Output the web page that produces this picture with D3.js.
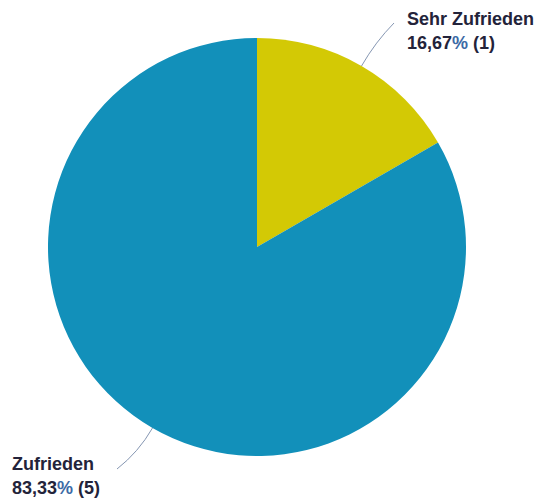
<!DOCTYPE html>
<html>
<head>
<meta charset="utf-8">
<script src="https://cdn.jsdelivr.net/npm/d3@7"></script>
<style>
  html, body { margin: 0; padding: 0; background: #fff; }
  svg { display: block; }
  text { font-family: "Liberation Sans", Arial, sans-serif; font-weight: bold; }
</style>
</head>
<body>
<svg id="chart" width="546" height="499"></svg>
<script>
// Satisfaction survey answers
const categories = ["Sehr Zufrieden", "Zufrieden"];
const counts = [1, 5];
const percentLabels = ["16,67", "83,33"];
const colors = ["#d3c905", "#1290ba"];

const width = 546, height = 499;
const cx = 257, cy = 247, radius = 209;

const svg = d3.select("#chart");
const g = svg.append("g").attr("transform", `translate(${cx},${cy})`);

const pie = d3.pie().sort(null).value(d => d.count);
const data = categories.map((c, i) => ({ name: c, count: counts[i], pct: percentLabels[i], color: colors[i] }));
const arcs = pie(data);
const arc = d3.arc().innerRadius(0).outerRadius(radius);

g.selectAll("path.slice")
  .data(arcs)
  .join("path")
  .attr("class", "slice")
  .attr("d", arc)
  .attr("fill", d => d.data.color);

// Label placement: text anchor point and leader line end, relative to centre
const labelPos = [
  { tx: 407 - cx, ty: 25 - cy, lx: 394 - cx, ly: 23 - cy },
  { tx: 12 - cx, ty: 470 - cy, lx: 117 - cx, ly: 469 - cy }
];

arcs.forEach((a, i) => {
  const mid = (a.startAngle + a.endAngle) / 2;
  const sx = Math.sin(mid) * radius, sy = -Math.cos(mid) * radius;
  const p = labelPos[i];
  // control point pushes the leader outward along the slice bisector
  const ox = Math.sin(mid) * (radius + 28), oy = -Math.cos(mid) * (radius + 28);
  const path = d3.path();
  path.moveTo(sx, sy);
  path.quadraticCurveTo(ox, oy, p.lx, p.ly);
  g.append("path")
    .attr("d", path.toString())
    .attr("fill", "none")
    .attr("stroke", "#8596b2")
    .attr("stroke-width", 1);

  const t = g.append("text")
    .attr("x", p.tx).attr("y", p.ty)
    .attr("font-size", 18)
    .attr("fill", "#23233a");
  t.append("tspan").attr("x", p.tx).text(a.data.name);
  const l2 = t.append("tspan").attr("x", p.tx).attr("dy", 24);
  l2.append("tspan").text(a.data.pct);
  l2.append("tspan").attr("fill", "#3b6aa6").text("%");
  l2.append("tspan").text(` (${a.data.count})`);
});
</script>
</body>
</html>
